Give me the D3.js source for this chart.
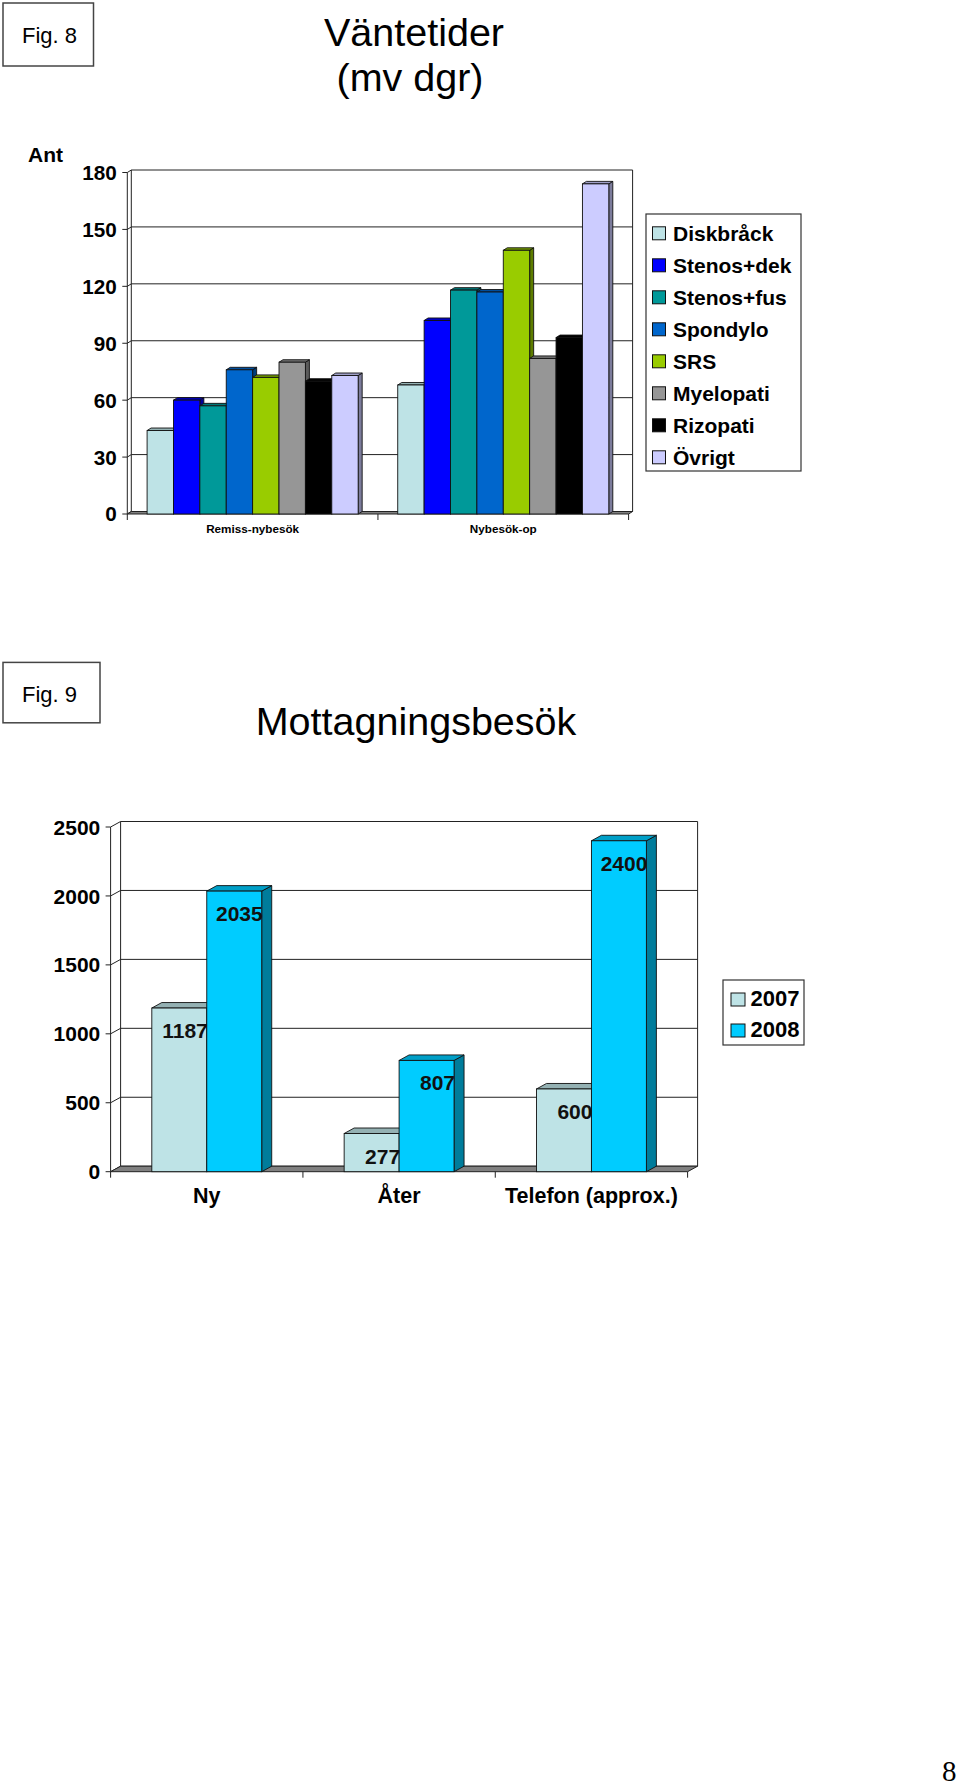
<!DOCTYPE html>
<html><head><meta charset="utf-8">
<script src="https://cdn.jsdelivr.net/npm/d3@7"></script>
<style>
html,body{margin:0;padding:0;background:#fff;}
svg{display:block;font-family:"Liberation Sans",Arial,Helvetica,sans-serif;}
</style></head>
<body>
<svg id="c" width="960" height="1787"></svg>
<script>
// ---------- Fig. 8 data ----------
const groups1 = ["Remiss-nybesök", "Nybesök-op"];
const series1 = ["Diskbråck","Stenos+dek","Stenos+fus","Spondylo","SRS","Myelopati","Rizopati","Övrigt"];
const colors1 = ["#BEE3E6","#0000FF","#009999","#0066CC","#99CC00","#969696","#000000","#CCCCFF"];
const remissValues = [44, 60, 57, 76, 72, 80, 70, 73];
const nybesokValues = [68, 102, 118, 117, 139, 82, 93, 174];
const ticks1 = [0, 30, 60, 90, 120, 150, 180];

// ---------- Fig. 9 data ----------
const categories2 = ["Ny", "Åter", "Telefon (approx.)"];
const series2 = ["2007", "2008"];
const colors2 = ["#BEE3E6", "#00CCFF"];
const values2007 = [1187, 277, 600];
const values2008 = [2035, 807, 2400];
const ticks2 = [0, 500, 1000, 1500, 2000, 2500];

const svg = d3.select("#c");

function figBox(x, y, w, h, label, baseline) {
  svg.append("rect").attr("x", x).attr("y", y).attr("width", w).attr("height", h)
    .attr("fill", "#fff").attr("stroke", "#444").attr("stroke-width", 1.5);
  svg.append("text").attr("x", x + 19).attr("y", baseline).attr("font-size", 22).text(label);
}

function bar3d(g, x, w, yTop, yBase, dx, dy, color) {
  const c = d3.color(color);
  const side = c.darker(1.4).formatHex();
  const top = c.darker(0.7).formatHex();
  const sw = 0.9, st = "#111";
  g.append("polygon").attr("points", [[x+w,yTop],[x+w+dx,yTop+dy],[x+w+dx,yBase+dy],[x+w,yBase]].join(" "))
    .attr("fill", side).attr("stroke", st).attr("stroke-width", sw);
  g.append("polygon").attr("points", [[x,yTop],[x+dx,yTop+dy],[x+w+dx,yTop+dy],[x+w,yTop]].join(" "))
    .attr("fill", top).attr("stroke", st).attr("stroke-width", sw);
  g.append("rect").attr("x", x).attr("y", yTop).attr("width", w).attr("height", yBase - yTop)
    .attr("fill", color).attr("stroke", st).attr("stroke-width", sw);
}

function frame(g, x0, y, ticks, dx, dy, tickFont, labelRight, fmt) {
  const [xL, xR] = x0.range();
  const y0 = y(0), yMax = y(ticks[ticks.length - 1]);
  ticks.forEach(t => {
    g.append("line").attr("x1", xL + dx).attr("x2", xR + dx).attr("y1", y(t) + dy).attr("y2", y(t) + dy)
      .attr("stroke", "#222").attr("stroke-width", 1);
    g.append("line").attr("x1", xL).attr("x2", xL + dx).attr("y1", y(t)).attr("y2", y(t) + dy)
      .attr("stroke", "#222").attr("stroke-width", 1);
    g.append("line").attr("x1", xL - 5).attr("x2", xL).attr("y1", y(t)).attr("y2", y(t))
      .attr("stroke", "#222").attr("stroke-width", 1);
    g.append("text").attr("x", labelRight).attr("y", y(t)).attr("dy", "0.36em")
      .attr("text-anchor", "end").attr("font-weight", "bold").attr("font-size", tickFont).text(fmt(t));
  });
  g.append("line").attr("x1", xL + dx).attr("x2", xL + dx).attr("y1", yMax + dy).attr("y2", y0 + dy).attr("stroke", "#222");
  g.append("line").attr("x1", xR + dx).attr("x2", xR + dx).attr("y1", yMax + dy).attr("y2", y0 + dy).attr("stroke", "#222");
  g.append("line").attr("x1", xL).attr("x2", xL).attr("y1", yMax).attr("y2", y0).attr("stroke", "#222");
  g.append("polygon").attr("points", [[xL,y0],[xR,y0],[xR+dx,y0+dy],[xL+dx,y0+dy]].join(" "))
    .attr("fill", "#808080").attr("stroke", "#222").attr("stroke-width", 1);
  const edges = x0.domain().map(d => x0(d)).concat([xR]);
  edges.forEach(e => g.append("line").attr("x1", e).attr("x2", e).attr("y1", y0).attr("y2", y0 + 6).attr("stroke", "#222"));
}

// ================= Fig. 8 =================
figBox(3, 3, 90.5, 63, "Fig. 8", 43);
svg.append("text").attr("x", 414).attr("y", 46).attr("text-anchor", "middle").attr("font-size", 39.5).text("Väntetider");
svg.append("text").attr("x", 410).attr("y", 91).attr("text-anchor", "middle").attr("font-size", 39.5).text("(mv dgr)");
svg.append("text").attr("x", 28).attr("y", 162).attr("font-size", 21).attr("font-weight", "bold").text("Ant");

const g1 = svg.append("g");
const x1 = d3.scaleBand().domain(groups1).range([127.3, 628.6]).padding(0);
const y1 = d3.scaleLinear().domain([0, 180]).range([514, 172.5]);
const dx1 = 4, dy1 = -2.5;
frame(g1, x1, y1, ticks1, dx1, dy1, 20.7, 116.7, d => d);
const data1 = [remissValues, nybesokValues];
const bw1 = x1.bandwidth() / 9.5;
groups1.forEach((gname, gi) => {
  series1.forEach((s, si) => {
    const x = x1(gname) + bw1 * 0.75 + si * bw1;
    bar3d(g1, x, bw1, y1(data1[gi][si]), y1(0), dx1, dy1, colors1[si]);
  });
  g1.append("text").attr("x", x1(gname) + x1.bandwidth() / 2).attr("y", 533.3)
    .attr("text-anchor", "middle").attr("font-size", 11.7).attr("font-weight", "bold").text(gname);
});
svg.append("rect").attr("x", 646).attr("y", 214).attr("width", 155).attr("height", 257)
  .attr("fill", "#fff").attr("stroke", "#333").attr("stroke-width", 1.2);
series1.forEach((s, i) => {
  const cy = 233.3 + i * 32;
  svg.append("rect").attr("x", 652.5).attr("y", cy - 6.5).attr("width", 13).attr("height", 13)
    .attr("fill", colors1[i]).attr("stroke", "#111").attr("stroke-width", 1);
  svg.append("text").attr("x", 673).attr("y", cy + 7.4).attr("font-size", 21).attr("font-weight", "bold").text(s);
});

// ================= Fig. 9 =================
figBox(3, 662.4, 97, 60.4, "Fig. 9", 701.7);
svg.append("text").attr("x", 416).attr("y", 735).attr("text-anchor", "middle").attr("font-size", 39.5).text("Mottagningsbesök");

const g2 = svg.append("g");
const x2 = d3.scaleBand().domain(categories2).range([110.6, 687.6]).padding(0);
const y2 = d3.scaleLinear().domain([0, 2500]).range([1171.7, 827]);
const dx2 = 10, dy2 = -5.5;
frame(g2, x2, y2, ticks2, dx2, dy2, 21, 100.3, d => d);
const data2 = [values2007, values2008];
const bw2 = x2.bandwidth() / 3.5;
categories2.forEach((c, ci) => {
  series2.forEach((s, si) => {
    const x = x2(c) + bw2 * 0.75 + si * bw2;
    bar3d(g2, x, bw2, y2(data2[si][ci]), y2(0), dx2, dy2, colors2[si]);
  });
});
categories2.forEach((c, ci) => {
  series2.forEach((s, si) => {
    const x = x2(c) + bw2 * 0.75 + si * bw2;
    const v = data2[si][ci];
    g2.append("text").attr("x", x + bw2 + 1).attr("y", y2(v) + 30).attr("text-anchor", "end")
      .attr("font-size", 21).attr("font-weight", "bold").attr("fill", "#111").text(v);
  });
  g2.append("text").attr("x", x2(c) + x2.bandwidth() / 2).attr("y", 1203.3).attr("text-anchor", "middle")
    .attr("font-size", 21.5).attr("font-weight", "bold").text(c);
});
svg.append("rect").attr("x", 723).attr("y", 980).attr("width", 81).attr("height", 65)
  .attr("fill", "#fff").attr("stroke", "#333").attr("stroke-width", 1.2);
series2.forEach((s, i) => {
  const cy = 999.5 + i * 31;
  svg.append("rect").attr("x", 731).attr("y", cy - 6.5).attr("width", 14).attr("height", 13)
    .attr("fill", colors2[i]).attr("stroke", "#111").attr("stroke-width", 1);
  svg.append("text").attr("x", 750.5).attr("y", cy + 6.5).attr("font-size", 22).attr("font-weight", "bold").text(s);
});

// page number
svg.append("text").attr("x", 942).attr("y", 1781).attr("font-family", "'Liberation Serif','Times New Roman',serif")
  .attr("font-size", 29).text("8");
</script>
</body></html>
